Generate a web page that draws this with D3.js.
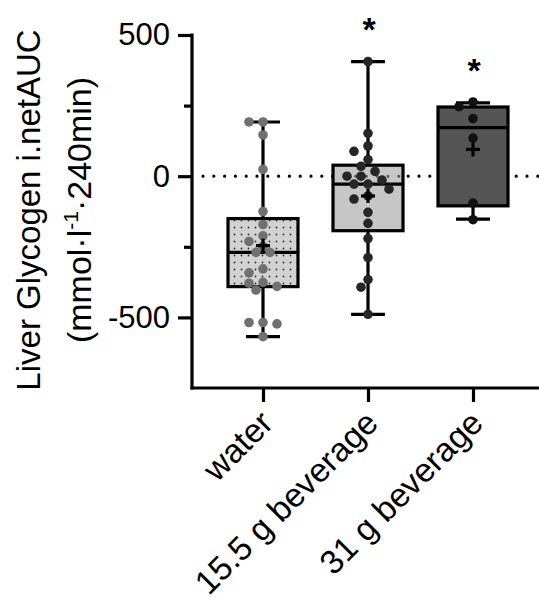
<!DOCTYPE html>
<html><head><meta charset="utf-8">
<script src="https://cdn.jsdelivr.net/npm/d3@7"></script>
<style>body{margin:0;background:#fff}svg{display:block;font-family:"Liberation Sans",Arial,sans-serif}</style>
</head><body><svg id="c" width="539" height="598"></svg>
<script>
// ---- data ----
const categories = ["water", "15.5 g beverage", "31 g beverage"];
const whiskerLow  = [-568, -489, -152];
const q1          = [-391, -193, -105];
const median      = [-270,  -28,  172];
const q3          = [-150,   39,  245];
const whiskerHigh = [ 192,  406,  260];
const means       = [-246,  -70,   95];
const significance = ["", "*", "*"];
const waterPoints = [192,192,146,24,-125,-171,-211,-231,-248,-270,-270,-328,-342,-379,-376,-403,-390,-518,-523,-518,-568];
const bev155Points = [406,152,107,88,59,35,17,0,0,-14,-28,-28,-46,-81,-70,-128,-167,-221,-288,-366,-393,-489];
const bev31Points = [263,246,204,135,-95,-154];
const yTicks = [-500, 0, 500];
const yMinorTicks = [-250, 250];
const yLabelLine1 = "Liver Glycogen i.netAUC";
const points = [waterPoints, bev155Points, bev31Points];

// ---- styles ----
const fills = ["url(#dots)", "#c6c6c6", "#555555"];
const dotColors = ["#707070", "#262626", "#111111"];

const svg = d3.select("#c");
const defs = svg.append("defs");
const pat = defs.append("pattern").attr("id","dots").attr("patternUnits","userSpaceOnUse")
  .attr("width",7).attr("height",7);
pat.append("rect").attr("width",7).attr("height",7).attr("fill","#d2d2d2");
pat.append("circle").attr("cx",3.5).attr("cy",3.5).attr("r",0.9).attr("fill","#333");

const y = d3.scaleLinear().domain([-750, 500]).range([388, 35]);
const x = d3.scalePoint().domain(categories).range([263, 473]);
const axisX0 = 192, axisX1 = 539;
const boxW = 70, capW = 34, r = 4.8;

// zero dotted line
svg.append("line").attr("x1", axisX0+11).attr("x2", axisX1).attr("y1", y(0)).attr("y2", y(0))
  .attr("stroke","#000").attr("stroke-width",3.2).attr("stroke-linecap","round")
  .attr("stroke-dasharray","0 10.8");

const g = svg.append("g").selectAll("g").data(categories).join("g");
g.each(function(c, i){
  const s = d3.select(this);
  const cx = x(c);
  s.append("line").attr("x1",cx).attr("x2",cx).attr("y1",y(whiskerHigh[i])).attr("y2",y(whiskerLow[i]))
    .attr("stroke","#000").attr("stroke-width",3.2);
  [whiskerHigh[i], whiskerLow[i]].forEach(v=>{
    s.append("line").attr("x1",cx-capW/2).attr("x2",cx+capW/2).attr("y1",y(v)).attr("y2",y(v))
      .attr("stroke","#000").attr("stroke-width",3.2);
  });
  s.append("rect").attr("x",cx-boxW/2).attr("width",boxW)
    .attr("y",y(q3[i])).attr("height",y(q1[i])-y(q3[i]))
    .attr("fill",fills[i]).attr("stroke","#000").attr("stroke-width",3.2);
  s.append("line").attr("x1",cx-boxW/2).attr("x2",cx+boxW/2).attr("y1",y(median[i])).attr("y2",y(median[i]))
    .attr("stroke","#000").attr("stroke-width",3.2);
});

svg.append("line").attr("x1", x(categories[1])-boxW/2+4).attr("x2", x(categories[1])+boxW/2-4)
  .attr("y1", y(0)).attr("y2", y(0))
  .attr("stroke","#555").attr("stroke-width",3).attr("stroke-linecap","round")
  .attr("stroke-dasharray","0 10.8").attr("stroke-dashoffset", 3);

function swarm(vals, cx){
  const placed = [];
  const step = 7;
  const cands = [0];
  for (let k=1;k<8;k++){ cands.push(-k*step, k*step); }
  const order = vals.map((v,j)=>({v,j})).sort((a,b)=>b.v-a.v);
  order.forEach(o=>{
    const py = y(o.v);
    for (const dx of cands){
      const px = cx+dx;
      if (placed.every(p => Math.hypot(p.x-px, p.y-py) >= 2*r-0.5)){ placed.push({x:px,y:py}); break; }
    }
  });
  return placed;
}
categories.forEach((c,i)=>{
  const pts = swarm(points[i], x(c));
  svg.append("g").selectAll("circle").data(pts).join("circle")
    .attr("cx",d=>d.x).attr("cy",d=>d.y).attr("r",r).attr("fill",dotColors[i]);
  const my = y(means[i]), cx = x(c);
  svg.append("line").attr("x1",cx-7).attr("x2",cx+7).attr("y1",my).attr("y2",my).attr("stroke","#000").attr("stroke-width",3.2);
  svg.append("line").attr("x1",cx).attr("x2",cx).attr("y1",my-7).attr("y2",my+7).attr("stroke","#000").attr("stroke-width",3.2);
  if (significance[i]) {
    svg.append("text").attr("x",cx+1).attr("y",y(whiskerHigh[i])-21).attr("text-anchor","middle")
      .attr("font-size",34).attr("font-weight","bold").attr("fill","#000").text(significance[i]);
  }
});

// axes
const yAxis = svg.append("g").attr("transform",`translate(${axisX0},0)`)
  .call(d3.axisLeft(y).tickValues(yTicks).tickSize(14).tickSizeOuter(0).tickPadding(8).tickFormat(d3.format("d")));
yAxis.select(".domain").remove();
svg.append("g").attr("transform",`translate(${axisX0},0)`)
  .call(d3.axisLeft(y).tickValues(yMinorTicks).tickSize(8).tickFormat(""))
  .select(".domain").remove();
svg.append("line").attr("x1",axisX0).attr("x2",axisX0).attr("y1",y(500)-1.5).attr("y2",y(-750)+1.5)
  .attr("stroke","#000").attr("stroke-width",3.2);
svg.selectAll(".tick line").attr("stroke","#000").attr("stroke-width",3.2);
yAxis.selectAll("text").attr("font-size",31).attr("fill","#000").attr("font-family","Liberation Sans, Arial, sans-serif")
  .text(d=>d<0? "-"+Math.abs(d): d);

const xAxis = svg.append("g").attr("transform",`translate(0,${y(-750)})`)
  .call(d3.axisBottom(x).tickSize(14).tickSizeOuter(0).tickFormat(""));
xAxis.select(".domain").remove();
xAxis.selectAll(".tick line").attr("stroke","#000").attr("stroke-width",3.2);
svg.append("line").attr("x1",axisX0-1.5).attr("x2",axisX1).attr("y1",y(-750)).attr("y2",y(-750))
  .attr("stroke","#000").attr("stroke-width",3.2);

svg.append("g").selectAll("text").data(categories).join("text")
  .attr("transform",d=>`translate(${x(d)+12},${y(-750)+37}) rotate(-45)`)
  .attr("text-anchor","end").attr("font-size",33.5).attr("fill","#000").text(d=>d);

// y label
const yl = svg.append("g").attr("transform","translate(0,210) rotate(-90)");
yl.append("text").attr("x",0).attr("y",40).attr("text-anchor","middle").attr("font-size",33).text(yLabelLine1);
const t2 = yl.append("text").attr("x",0).attr("y",91).attr("text-anchor","middle").attr("font-size",34);
t2.append("tspan").text("(mmol·l");
t2.append("tspan").attr("dy",-13).attr("font-size",21).text("-1");
t2.append("tspan").attr("dy",13).text("·240min)");
</script></body></html>
